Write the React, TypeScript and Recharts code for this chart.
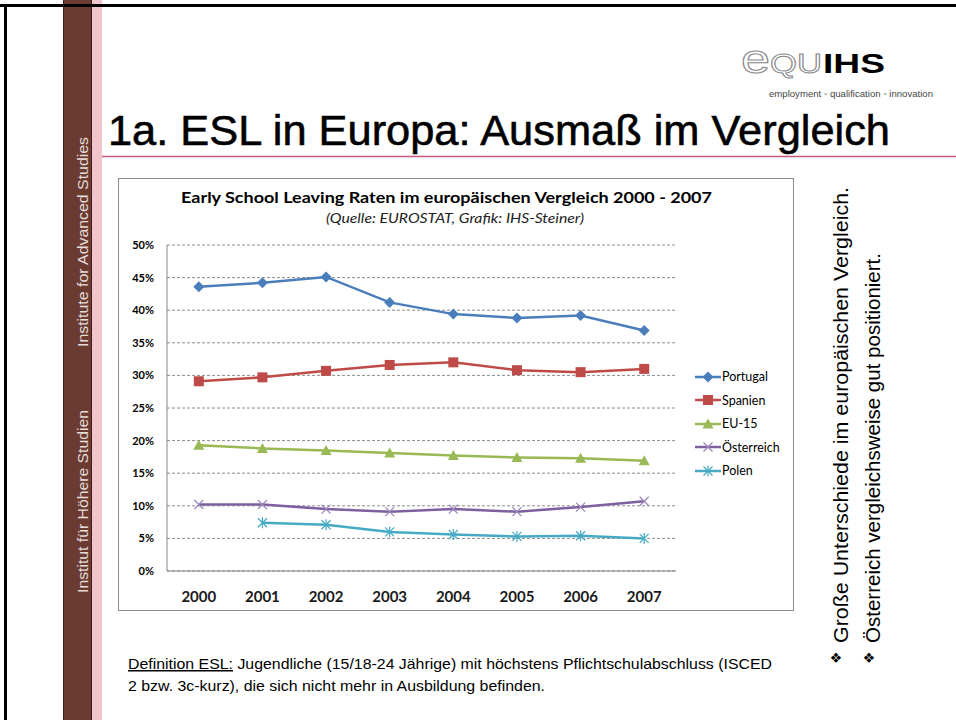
import React from "react";
import { LineChart, Line, XAxis, YAxis, CartesianGrid, Legend } from "recharts";

// Werte in Prozent (EUROSTAT, 2000 - 2007)
const years = ["2000", "2001", "2002", "2003", "2004", "2005", "2006", "2007"];
const portugal = [43.6, 44.2, 45.1, 41.2, 39.4, 38.8, 39.2, 36.9];
const spanien = [29.1, 29.7, 30.7, 31.6, 32.0, 30.8, 30.5, 31.0];
const eu15 = [19.3, 18.8, 18.5, 18.1, 17.7, 17.4, 17.3, 16.9];
const oesterreich = [10.2, 10.2, 9.5, 9.1, 9.5, 9.1, 9.8, 10.7];
const polen = [null, 7.4, 7.1, 6.0, 5.6, 5.3, 5.4, 5.0];
const yTicks = [0, 5, 10, 15, 20, 25, 30, 35, 40, 45, 50];

type Shape = "diamond" | "square" | "triangle" | "x" | "star";

const series: { key: string; name: string; color: string; markColor: string; shape: Shape; values: (number | null)[] }[] = [
  { key: "portugal", name: "Portugal", color: "#4a7ebb", markColor: "#4a7ebb", shape: "diamond", values: portugal },
  { key: "spanien", name: "Spanien", color: "#be4b48", markColor: "#be4b48", shape: "square", values: spanien },
  { key: "eu15", name: "EU-15", color: "#98b954", markColor: "#98b954", shape: "triangle", values: eu15 },
  { key: "oesterreich", name: "Österreich", color: "#7d60a0", markColor: "#9c86bd", shape: "x", values: oesterreich },
  { key: "polen", name: "Polen", color: "#46aac5", markColor: "#46aac5", shape: "star", values: polen },
];

const data = years.map((year, i) => {
  const row: Record<string, string | number | null> = { year };
  series.forEach(s => { row[s.key] = s.values[i]; });
  return row;
});

const ARIAL = "'Liberation Sans', Arial, sans-serif";
const CALIBRI = "Lato, 'Open Sans', sans-serif";

/** Excel-artige Marker */
function Marker({ shape, cx, cy, color }: { shape: Shape; cx: number; cy: number; color: string }) {
  switch (shape) {
    case "diamond":
      return <polygon points={`${cx},${cy - 5.5} ${cx + 5.5},${cy} ${cx},${cy + 5.5} ${cx - 5.5},${cy}`} fill={color} />;
    case "square":
      return <rect x={cx - 5} y={cy - 5} width={10} height={10} fill={color} />;
    case "triangle":
      return <polygon points={`${cx},${cy - 5.5} ${cx + 5.5},${cy + 4.5} ${cx - 5.5},${cy + 4.5}`} fill={color} />;
    case "x":
      return (
        <g stroke={color} strokeWidth={1.2}>
          <line x1={cx - 4.5} y1={cy - 4.5} x2={cx + 4.5} y2={cy + 4.5} />
          <line x1={cx - 4.5} y1={cy + 4.5} x2={cx + 4.5} y2={cy - 4.5} />
        </g>
      );
    default:
      return (
        <g stroke={color} strokeWidth={1.2}>
          <line x1={cx - 4.5} y1={cy - 4.5} x2={cx + 4.5} y2={cy + 4.5} />
          <line x1={cx - 4.5} y1={cy + 4.5} x2={cx + 4.5} y2={cy - 4.5} />
          <line x1={cx} y1={cy - 5.5} x2={cx} y2={cy + 5.5} />
        </g>
      );
  }
}

function LegendBox() {
  return (
    <div style={{ fontFamily: CALIBRI, fontSize: 12.5, color: "#000" }}>
      {series.map(s => (
        <div key={s.key} style={{ height: 23.5, display: "flex", alignItems: "center" }}>
          <svg width={27} height={14} style={{ display: "block" }}>
            <line x1={0} y1={7} x2={26} y2={7} stroke={s.color} strokeWidth={2.5} />
            <Marker shape={s.shape} cx={13} cy={7} color={s.markColor} />
          </svg>
          <span style={{ marginLeft: 0 }}>{s.name}</span>
        </div>
      ))}
    </div>
  );
}

function Slide() {
  return (
    <svg width={956} height={720} style={{ position: "absolute", left: 0, top: 0 }}>
      <rect x={0} y={0} width={956} height={720} fill="#fff" />
      {/* Seitenleiste */}
      <rect x={63} y={0} width={29} height={720} fill="#6b3b32" />
      <line x1={63.5} y1={0} x2={63.5} y2={720} stroke="#3a1f1a" />
      <line x1={91.5} y1={0} x2={91.5} y2={720} stroke="#3a1f1a" />
      <rect x={92} y={0} width={10} height={720} fill="#f2c4cb" />
      <rect x={0} y={4} width={956} height={3} fill="#000" />
      <rect x={4} y={4} width={3} height={716} fill="#000" />
      <text transform="translate(88,347) rotate(-90)" fill="#e6dcda" fontFamily={ARIAL} fontSize={15.5} textLength={210} lengthAdjust="spacingAndGlyphs">
        Institute for Advanced Studies
      </text>
      <text transform="translate(88,593) rotate(-90)" fill="#e6dcda" fontFamily={ARIAL} fontSize={15.5} textLength={183} lengthAdjust="spacingAndGlyphs">
        Institut für Höhere Studien
      </text>

      {/* Logo */}
      <text x={741} y={73} fontFamily={ARIAL} fontSize={40} fill="#fff" stroke="#888" strokeWidth={1} textLength={29} lengthAdjust="spacingAndGlyphs">e</text>
      <text x={770} y={73} fontFamily={ARIAL} fontSize={28} fill="#fff" stroke="#888" strokeWidth={1} textLength={52} lengthAdjust="spacingAndGlyphs">QU</text>
      <text x={823} y={73} fontFamily={ARIAL} fontSize={28} fontWeight={900} fill="#000" textLength={62} lengthAdjust="spacingAndGlyphs">IHS</text>
      <text x={769} y={97} fontFamily={ARIAL} fontSize={8.5} fill="#444" textLength={164} lengthAdjust="spacingAndGlyphs">
        employment <tspan fill="#bbb">▪</tspan> qualification <tspan fill="#bbb">▪</tspan> innovation
      </text>

      {/* Folientitel */}
      <text x={108} y={145} fontFamily={ARIAL} fontSize={43} fill="#000" stroke="#000" strokeWidth={0.6} textLength={782} lengthAdjust="spacingAndGlyphs">
        1a. ESL in Europa: Ausmaß im Vergleich
      </text>
      <line x1={102} y1={156.5} x2={956} y2={156.5} stroke="#c4577a" strokeWidth={1.5} />

      {/* Diagrammrahmen und -titel */}
      <rect x={118.5} y={178.5} width={675} height={432} fill="#fff" stroke="#8c8c8c" />
      <text x={181} y={203} fontFamily={CALIBRI} fontWeight={700} fontSize={15} fill="#000" textLength={531} lengthAdjust="spacingAndGlyphs">
        Early School Leaving Raten im europäischen Vergleich 2000 - 2007
      </text>
      <text x={326} y={223} fontFamily={CALIBRI} fontStyle="italic" fontSize={14} fill="#222" textLength={258} lengthAdjust="spacingAndGlyphs">
        (Quelle: EUROSTAT, Grafik: IHS-Steiner)
      </text>

      {/* Rechte Textspalte */}
      <text transform="translate(848,643) rotate(-90)" fontFamily={ARIAL} fontSize={21} fill="#000" textLength={456} lengthAdjust="spacingAndGlyphs">
        Große Unterschiede im europäischen Vergleich.
      </text>
      <text transform="translate(880,643) rotate(-90)" fontFamily={ARIAL} fontSize={21} fill="#000" textLength={390} lengthAdjust="spacingAndGlyphs">
        Österreich vergleichsweise gut positioniert.
      </text>
      <text transform="translate(841,664) rotate(-90)" fontFamily="'DejaVu Sans', sans-serif" fontSize={14} fill="#000">❖</text>
      <text transform="translate(874,664) rotate(-90)" fontFamily="'DejaVu Sans', sans-serif" fontSize={14} fill="#000">❖</text>

      {/* Definition */}
      <text x={128} y={669} fontFamily={`'Liberation Sans Narrow', ${ARIAL}`} fontSize={15} fill="#000" textLength={644} lengthAdjust="spacingAndGlyphs">
        <tspan textDecoration="underline">Definition ESL:</tspan> Jugendliche (15/18-24 Jährige) mit höchstens Pflichtschulabschluss (ISCED
      </text>
      <text x={128} y={691} fontFamily={`'Liberation Sans Narrow', ${ARIAL}`} fontSize={15} fill="#000" textLength={417} lengthAdjust="spacingAndGlyphs">
        2 bzw. 3c-kurz), die sich nicht mehr in Ausbildung befinden.
      </text>
    </svg>
  );
}

export default function App() {
  return (
    <div style={{ position: "absolute", left: 0, top: 0, width: 956, height: 720, overflow: "hidden", background: "#fff" }}>
      <Slide />
      <div style={{ position: "absolute", left: 118, top: 178 }}>
        <LineChart width={675} height={432} data={data} margin={{ top: 67, right: 117, left: 9, bottom: 9 }}>
          <CartesianGrid vertical={false} stroke="#8c8c8c" strokeDasharray="3 2" />
          <XAxis
            dataKey="year"
            height={30}
            padding={{ left: 31.8, right: 31.8 }}
            tickSize={0}
            tickMargin={20}
            axisLine={{ stroke: "#868686" }}
            tickLine={false}
            tick={{ fontSize: 15, fontWeight: 700, fill: "#1a1a1a", fontFamily: CALIBRI }}
          />
          <YAxis
            domain={[0, 50]}
            ticks={yTicks}
            width={40}
            tickSize={0}
            tickMargin={13}
            axisLine={{ stroke: "#868686" }}
            tickLine={false}
            tickFormatter={(v: number) => `${v}%`}
            tick={{ fontSize: 11, fontWeight: 700, fill: "#000", fontFamily: CALIBRI }}
          />
          <Legend
            layout="vertical"
            align="center"
            verticalAlign="middle"
            wrapperStyle={{ left: 577, top: 187, width: 100 }}
            content={() => <LegendBox />}
          />
          {series.map(s => (
            <Line
              key={s.key}
              type="linear"
              dataKey={s.key}
              name={s.name}
              stroke={s.color}
              strokeWidth={2.5}
              isAnimationActive={false}
              activeDot={false}
              // eslint-disable-next-line @typescript-eslint/no-explicit-any
              dot={(p: any) =>
                p.cx == null || p.cy == null || p.value == null
                  ? <g key={`${s.key}-${p.index}`} />
                  : <Marker key={`${s.key}-${p.index}`} shape={s.shape} cx={p.cx} cy={p.cy} color={s.markColor} />
              }
            />
          ))}
        </LineChart>
      </div>
    </div>
  );
}
